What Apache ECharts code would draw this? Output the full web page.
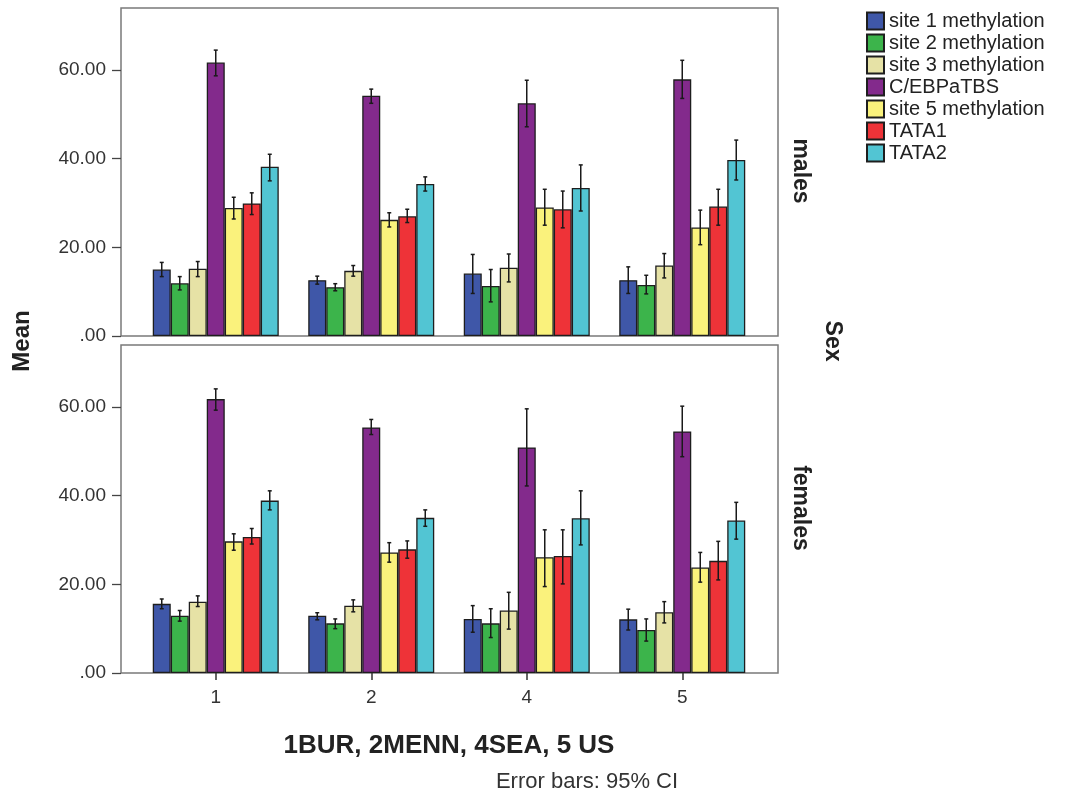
<!DOCTYPE html>
<html>
<head>
<meta charset="utf-8">
<title>Methylation by site and sex</title>
<script src="https://cdn.jsdelivr.net/npm/echarts@6/dist/echarts.min.js"></script>
<style>
  html, body { margin: 0; padding: 0; background: #fff; }
  #chart { width: 1065px; height: 794px; }
</style>
</head>
<body>
<div id="chart"></div>
<script>
// groups on the x axis (1BUR, 2MENN, 4SEA, 5 US)
const categories = ['1', '2', '4', '5'];
const seriesNames = ['site 1 methylation', 'site 2 methylation', 'site 3 methylation', 'C/EBPaTBS', 'site 5 methylation', 'TATA1', 'TATA2'];
const yTicks = [0, 20, 40, 60];

// males: one row per series, one value per group
const maleMean = [
  [15.0, 12.6, 14.1, 12.6],
  [11.9, 11.0, 11.3, 11.5],
  [15.2, 14.7, 15.4, 15.9],
  [61.7, 54.2, 52.5, 57.9],
  [28.9, 26.2, 29.0, 24.5],
  [29.9, 27.0, 28.6, 29.2],
  [38.2, 34.3, 33.4, 39.7]
];
const maleLow = [
  [13.4, 11.7, 9.6, 9.6],
  [10.4, 10.2, 7.7, 9.5],
  [13.4, 13.5, 12.2, 13.1],
  [58.7, 52.5, 47.2, 53.6],
  [26.4, 24.6, 25.0, 20.6],
  [27.4, 25.6, 24.4, 25.0],
  [35.0, 32.7, 28.2, 35.2]
];
const maleHigh = [
  [16.6, 13.5, 18.4, 15.6],
  [13.4, 11.8, 15.0, 13.7],
  [16.8, 15.9, 18.5, 18.6],
  [64.5, 55.7, 57.7, 62.2],
  [31.3, 27.8, 33.1, 28.4],
  [32.3, 28.6, 32.7, 33.1],
  [41.0, 35.9, 38.6, 44.2]
];

// females
const femaleMean = [
  [15.6, 12.9, 12.2, 12.1],
  [12.9, 11.2, 11.2, 9.7],
  [16.1, 15.2, 14.1, 13.7],
  [61.8, 55.4, 50.9, 54.5],
  [29.7, 27.2, 26.1, 23.8],
  [30.7, 27.9, 26.4, 25.3],
  [38.9, 35.0, 34.9, 34.4]
];
const femaleLow = [
  [14.5, 12.0, 9.2, 9.7],
  [11.7, 10.0, 8.0, 7.2],
  [15.0, 13.8, 9.9, 11.3],
  [59.3, 53.8, 42.2, 48.8],
  [27.7, 25.0, 19.5, 20.5],
  [29.1, 25.9, 20.1, 21.0],
  [36.8, 33.1, 28.9, 30.2]
];
const femaleHigh = [
  [16.7, 13.6, 15.2, 14.4],
  [14.1, 12.2, 14.5, 12.2],
  [17.4, 16.5, 18.2, 16.1],
  [64.1, 57.2, 59.6, 60.2],
  [31.4, 29.4, 32.3, 27.2],
  [32.6, 29.8, 32.3, 29.7],
  [41.1, 36.8, 41.1, 38.5]
];

const colors = ['#3F57A8', '#3CB44B', '#E6E2A6', '#832A8C', '#FAF27C', '#EE3338', '#52C5D3'];
const BAR_W = 18;
const Y_MAX = 74;
const FONT = "'Liberation Sans', Arial, sans-serif";

const chart = echarts.init(document.getElementById('chart'));

// bars of one panel
function barSeries(means, xi) {
  return seriesNames.map((name, i) => ({
    name: name,
    type: 'bar',
    xAxisIndex: xi,
    yAxisIndex: xi,
    data: means[i],
    barWidth: BAR_W,
    barGap: '0%',
    itemStyle: { color: colors[i], borderColor: '#1e1e1e', borderWidth: 1.3 },
    emphasis: { disabled: true }
  }));
}

// 95% CI whiskers of one panel, placed on the matching bar
function errorSeries(low, high, xi) {
  const rows = [];
  low.forEach((row, s) => row.forEach((v, c) => rows.push([c, s, v, high[s][c]])));
  return {
    type: 'custom',
    xAxisIndex: xi,
    yAxisIndex: xi,
    z: 5,
    silent: true,
    encode: { x: 0, y: [2, 3] },
    data: rows,
    renderItem: function (params, api) {
      const s = api.value(1);
      const pLo = api.coord([api.value(0), api.value(2)]);
      const pHi = api.coord([api.value(0), api.value(3)]);
      const x = pLo[0] + (s - (seriesNames.length - 1) / 2) * BAR_W;
      const st = { stroke: '#1a1a1a', lineWidth: 1.5 };
      return {
        type: 'group',
        children: [
          { type: 'line', shape: { x1: x, y1: pLo[1], x2: x, y2: pHi[1] }, style: st },
          { type: 'line', shape: { x1: x - 2, y1: pLo[1], x2: x + 2, y2: pLo[1] }, style: st },
          { type: 'line', shape: { x1: x - 2, y1: pHi[1], x2: x + 2, y2: pHi[1] }, style: st }
        ]
      };
    }
  };
}

// y axis drawn on the framed grid
function frameY(gi) {
  return {
    gridIndex: gi, type: 'value', min: 0, max: Y_MAX,
    axisLine: { show: false },
    splitLine: { show: false },
    axisTick: { show: true, length: 9, customValues: yTicks, lineStyle: { color: '#444', width: 1.3 } },
    axisLabel: {
      customValues: yTicks, margin: 15, fontSize: 19, color: '#333', fontFamily: FONT,
      formatter: v => v === 0 ? '.00' : v.toFixed(2)
    }
  };
}
function hiddenY(gi) {
  return { gridIndex: gi, type: 'value', min: 0, max: Y_MAX, show: false };
}

const option = {
  animation: false,
  textStyle: { fontFamily: FONT },
  legend: {
    data: seriesNames,
    orient: 'vertical',
    left: 866,
    top: 11,
    padding: 0,
    itemWidth: 17,
    itemHeight: 17,
    itemGap: 2,
    icon: 'rect',
    textStyle: { fontSize: 20, lineHeight: 20, color: '#222', fontFamily: FONT }
  },
  grid: [
    { left: 121, top: 8, width: 657, height: 328, show: true, borderColor: '#7a7a7a', borderWidth: 1.5 },
    { left: 138, top: 8, width: 622, height: 328 },
    { left: 121, top: 345, width: 657, height: 328, show: true, borderColor: '#7a7a7a', borderWidth: 1.5 },
    { left: 138, top: 345, width: 622, height: 328 }
  ],
  xAxis: [
    { gridIndex: 0, type: 'value', show: false },
    { gridIndex: 1, type: 'category', data: categories, axisLine: { show: false }, axisTick: { show: false }, axisLabel: { show: false } },
    { gridIndex: 2, type: 'value', show: false },
    {
      gridIndex: 3, type: 'category', data: categories,
      axisLine: { show: false },
      axisTick: { show: true, alignWithLabel: true, length: 7, lineStyle: { color: '#333', width: 1.5 } },
      axisLabel: { fontSize: 19, color: '#333', margin: 15, fontFamily: FONT },
      name: '1BUR, 2MENN, 4SEA, 5 US',
      nameLocation: 'middle',
      nameGap: 60,
      nameTextStyle: { fontSize: 26, fontWeight: 'bold', color: '#222', fontFamily: FONT }
    }
  ],
  yAxis: [frameY(0), hiddenY(1), frameY(2), hiddenY(3)],
  graphic: [
    { type: 'text', x: 22, y: 341, rotation: Math.PI / 2,
      style: { text: 'Mean', fontSize: 24, fontWeight: 'bold', fill: '#222', align: 'center', verticalAlign: 'middle', fontFamily: FONT } },
    { type: 'text', x: 832, y: 341, rotation: -Math.PI / 2,
      style: { text: 'Sex', fontSize: 23, fontWeight: 'bold', fill: '#222', align: 'center', verticalAlign: 'middle', fontFamily: FONT } },
    { type: 'text', x: 800, y: 171, rotation: -Math.PI / 2,
      style: { text: 'males', fontSize: 23, fontWeight: 'bold', fill: '#222', align: 'center', verticalAlign: 'middle', fontFamily: FONT } },
    { type: 'text', x: 800, y: 508, rotation: -Math.PI / 2,
      style: { text: 'females', fontSize: 23, fontWeight: 'bold', fill: '#222', align: 'center', verticalAlign: 'middle', fontFamily: FONT } },
    { type: 'text', x: 587, y: 782,
      style: { text: 'Error bars: 95% CI', fontSize: 22, fill: '#333', align: 'center', verticalAlign: 'middle', fontFamily: FONT } }
  ],
  series: [].concat(
    barSeries(maleMean, 1),
    [errorSeries(maleLow, maleHigh, 1)],
    barSeries(femaleMean, 3),
    [errorSeries(femaleLow, femaleHigh, 3)]
  )
};

chart.setOption(option);
</script>
</body>
</html>
